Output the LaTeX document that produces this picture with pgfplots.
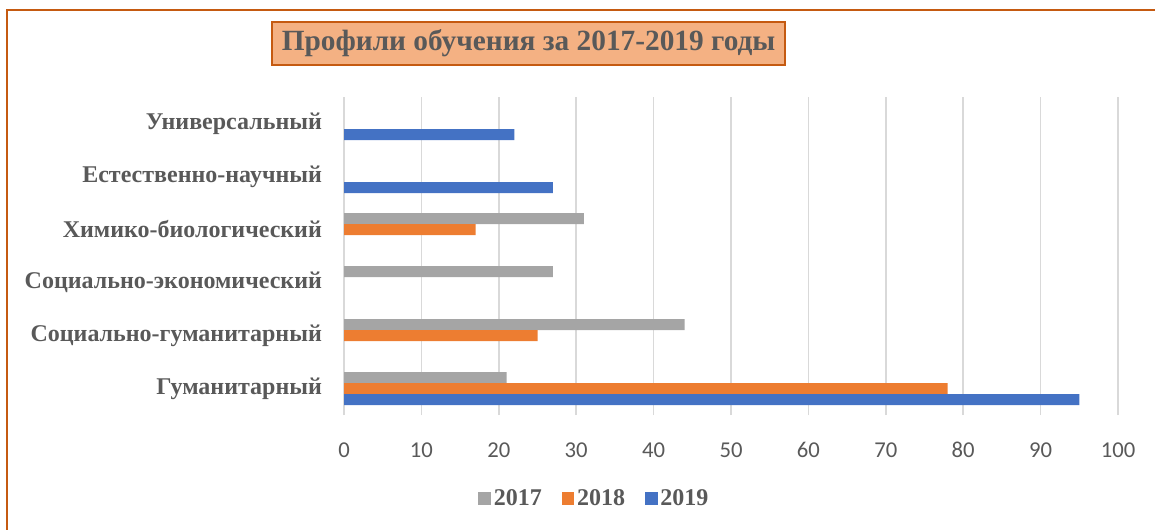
\documentclass[border=0pt]{standalone}
\usepackage{fontspec}
\setmainfont{Liberation Serif}
\newfontfamily\calibri{Carlito}
\usepackage{pgfplots}
\pgfplotsset{compat=1.18}
\definecolor{cA}{HTML}{A5A5A5}
\definecolor{cB}{HTML}{ED7D31}
\definecolor{cC}{HTML}{4472C4}
\definecolor{txtgray}{HTML}{595959}
\definecolor{gridgray}{HTML}{D9D9D9}
\definecolor{borderor}{HTML}{C55A11}
\definecolor{titlefill}{HTML}{F4B183}
\begin{document}
\begin{tikzpicture}
\useasboundingbox (0pt,0pt) rectangle (866.25pt,-397.5pt);
\begin{axis}[
  at={(258pt,-311.25pt)}, anchor=south west,
  scale only axis, width=580.5pt, height=238.5pt,
  xbar, bar width=8.25pt,
  xmin=0, xmax=100, ymin=-0.5, ymax=5.5,
  xtick={0,10,...,100}, ytick={0,1,2,3,4,5},
  yticklabels={Гуманитарный,Социально-гуманитарный,Социально-экономический,Химико-биологический,Естественно-научный,Универсальный},
  xmajorgrids, major grid style={draw=gridgray, line width=1.1pt},
  axis line style={draw=none}, major tick length=0pt,
  /pgf/number format/assume math mode=true,
  xticklabel style={font=\calibri\fontsize{17}{20}\selectfont, text=txtgray, yshift=-17pt},
  yticklabel style={font=\bfseries\fontsize{18}{20}\selectfont, text=txtgray, xshift=-13pt},
  legend image code/.code={\fill[#1] (0pt,-4.5pt) rectangle (9.5pt,5pt);},
  legend style={at={(axis description cs:0.324,-0.264)}, anchor=center, legend columns=3, draw=none, fill=none,
    font=\bfseries\fontsize{18}{20}\selectfont, text=txtgray,
    /tikz/every even column/.append style={column sep=13pt}},
]
\addplot[fill=cA, draw=none, bar shift=8.25pt] coordinates {(21,0) (44,1) (27,2) (31,3)};
\addplot[fill=cB, draw=none, bar shift=0pt] coordinates {(78,0) (25,1) (17,3)};
\addplot[fill=cC, draw=none, bar shift=-8.25pt] coordinates {(95,0) (27,4) (22,5)};
\legend{2017,2018,2019}
\end{axis}
\node[draw=borderor, line width=1.2pt, fill=titlefill, minimum width=384.75pt, minimum height=32.25pt, inner sep=0pt,
  font=\bfseries\fontsize{22}{24}\selectfont, text=txtgray] at (396.4pt,-32.6pt) {Профили обучения за 2017-2019 годы};
\draw[borderor, line width=1.6pt] (5.25pt,-600pt) -- (5.25pt,-7.5pt) -- (1000pt,-7.5pt);
\end{tikzpicture}
\end{document}
